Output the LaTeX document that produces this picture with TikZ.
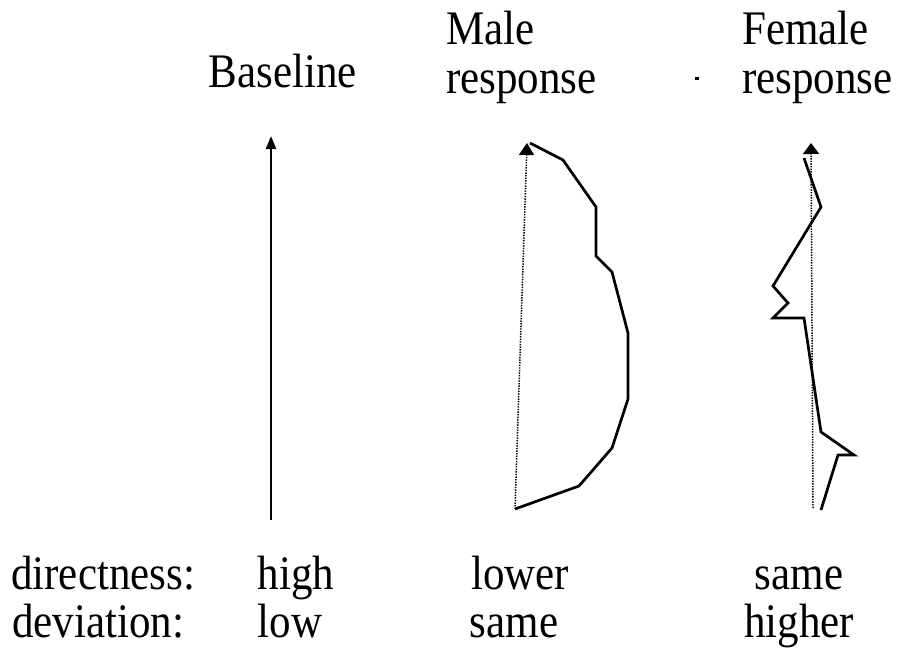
\documentclass[tikz,border=0pt]{standalone}
\usepackage{fontspec}
\setmainfont{Liberation Serif}
\usetikzlibrary{arrows.meta}
\newcommand{\tallt}[1]{\scalebox{1}[1.12]{#1}}
\begin{document}
\begin{tikzpicture}[x=1pt,y=-1pt,
  lbl/.style={inner sep=0pt,font=\fontsize{43}{48}\selectfont},
  solidcurve/.style={line width=2.7pt,line join=miter,line cap=butt},
  dotcurve/.style={line width=1.5pt,dash pattern=on 1.4pt off 1.2pt},
  tipB/.style={-{Triangle[width=10pt,length=13pt]}},
  tipM/.style={-{Triangle[width=15pt,length=12pt]}},
  tipF/.style={-{Triangle[width=16pt,length=11pt]}}]
\useasboundingbox (0,0) rectangle (897,653);
% headings
\node[lbl,anchor=base] (hbase) at (283,87) {\tallt{Baseline}};
\node[lbl,anchor=base west] (hmale1) at (446,44) {\tallt{Male}};
\node[lbl,anchor=base west] (hmale2) at (446,93) {\tallt{response}};
\node[lbl,anchor=base west] (hfem1) at (742,44) {\tallt{Female}};
\node[lbl,anchor=base west] (hfem2) at (742,93) {\tallt{response}};
\fill (695,77) rectangle (699,80);
% baseline arrow
\coordinate (b0) at (271,520);
\coordinate (b1) at (271,136);
\draw[line width=2.3pt,tipB] (b0) -- (b1);
% male response
\coordinate (m0) at (515,509);
\coordinate (m1) at (527,143);
\draw[dotcurve,tipM] (m0) -- (m1);
\draw[solidcurve] (530,143) -- (563,160) -- (596,207) -- (596,256) -- (612,272)
  -- (628,333) -- (628,399) -- (612,448) -- (579,486) -- (m0);
% female response
\coordinate (f0) at (813,508);
\coordinate (f1) at (811,143);
\draw[dotcurve,tipF] (f0) -- (f1);
\draw[solidcurve] (804,158) -- (821,207) -- (773,286) -- (788,303) -- (773,318)
  -- (804,318) -- (821,432) -- (854,455) -- (838,455) -- (821,510);
% bottom labels
\node[lbl,anchor=base west] (ldir) at (11,589) {\tallt{directness:}};
\node[lbl,anchor=base west] (ldev) at (12,637) {\tallt{deviation:}};
\node[lbl,anchor=base] (vhigh) at (296,589) {\tallt{high}};
\node[lbl,anchor=base] (vlow) at (290,637) {\tallt{low}};
\node[lbl,anchor=base] (vlower) at (520,589) {\tallt{lower}};
\node[lbl,anchor=base] (vsame1) at (514,637) {\tallt{same}};
\node[lbl,anchor=base] (vsame2) at (799,589) {\tallt{same}};
\node[lbl,anchor=base] (vhigher) at (799,637) {\tallt{higher}};
\end{tikzpicture}
\end{document}
